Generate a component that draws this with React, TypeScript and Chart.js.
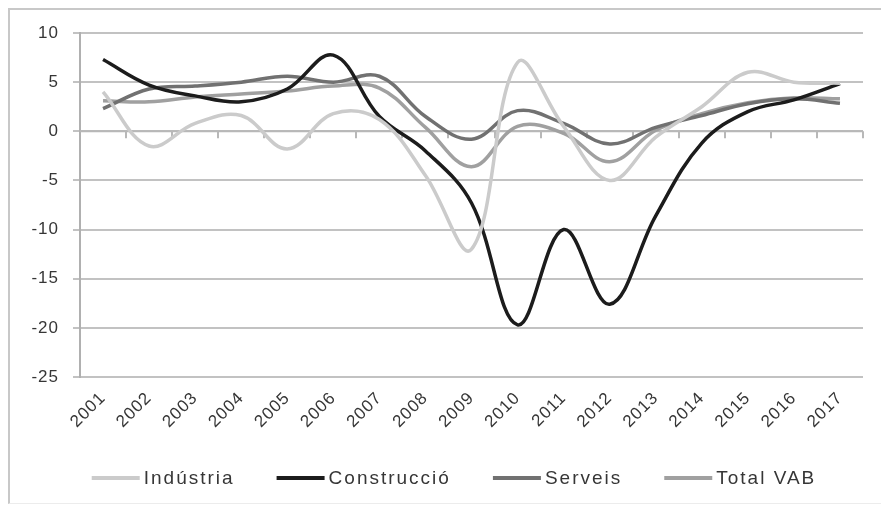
import React, { useEffect, useRef } from 'react';
import { Chart, registerables } from 'chart.js';

Chart.register(...registerables);

const years = ['2001', '2002', '2003', '2004', '2005', '2006', '2007', '2008', '2009', '2010', '2011', '2012', '2013', '2014', '2015', '2016', '2017'];
const industria = [4.0, -1.5, 0.8, 1.6, -1.8, 1.8, 1.2, -4.5, -12.0, 7.0, 0.5, -5.0, -0.6, 2.5, 6.0, 5.0, 4.9];
const construccio = [7.3, 4.7, 3.6, 3.0, 4.3, 7.75, 1.5, -2.0, -7.3, -19.7, -10.0, -17.6, -8.6, -1.2, 2.0, 3.2, 4.85];
const serveis = [2.3, 4.3, 4.6, 5.0, 5.6, 5.0, 5.6, 1.5, -0.8, 2.1, 0.8, -1.3, 0.4, 1.6, 2.8, 3.3, 2.85];
const totalVab = [3.1, 3.0, 3.5, 3.8, 4.1, 4.6, 4.4, 0.4, -3.6, 0.5, -0.2, -3.1, 0.1, 1.8, 2.9, 3.4, 3.3];
const seriesNames = ['Indústria', 'Construcció', 'Serveis', 'Total VAB'];
const yMin = -25;
const yMax = 10;
const yStep = 5;

const colors = ['#cbcbcb', '#1c1c1c', '#717171', '#a0a0a0'];
const textColor = '#363636';
const gridColor = '#c2c2c2';

const spacingPlugin = {
  id: 'spacing',
  beforeUpdate(chart: any) {
    chart.ctx.letterSpacing = '1px';
  },
  beforeDraw(chart: any) {
    chart.ctx.letterSpacing = '1px';
  },
};

const zeroAxisPlugin = {
  id: 'zeroAxis',
  beforeDatasetsDraw(chart: any) {
    const { ctx, scales } = chart;
    const x = scales.x;
    const y = scales.y;
    const y0 = y.getPixelForValue(0);
    const n = x.ticks.length;
    const step = (x.right - x.left) / n;
    ctx.save();
    ctx.strokeStyle = '#b8b8b8';
    ctx.lineWidth = 2;
    ctx.beginPath();
    ctx.moveTo(x.left, y0);
    ctx.lineTo(x.right, y0);
    for (let i = 1; i <= n; i++) {
      const px = Math.round(x.left + i * step);
      ctx.moveTo(px, y0);
      ctx.lineTo(px, y0 + 7);
    }
    ctx.stroke();
    ctx.restore();
  },
};

const legendPlugin = {
  id: 'customLegend',
  afterDraw(chart: any) {
    const ctx = chart.ctx;
    ctx.save();
    ctx.font = '19px "Liberation Sans", Arial, sans-serif';
    ctx.letterSpacing = '2px';
    const lineW = 48;
    const gap = 4;
    const itemGap = 42;
    const items = chart.data.datasets.map((ds: any) => ({
      label: ds.label,
      color: ds.borderColor,
      w: ctx.measureText(ds.label).width,
    }));
    const total = items.reduce((s: number, it: any) => s + lineW + gap + it.w, 0) + itemGap * (items.length - 1);
    const centerX = 454;
    const cy = 478;
    let x = centerX - total / 2;
    ctx.textBaseline = 'middle';
    ctx.textAlign = 'left';
    for (const it of items) {
      ctx.strokeStyle = it.color;
      ctx.lineWidth = 4;
      ctx.beginPath();
      ctx.moveTo(x, cy);
      ctx.lineTo(x + lineW, cy);
      ctx.stroke();
      ctx.fillStyle = textColor;
      ctx.fillText(it.label, x + lineW + gap, cy + 1);
      x += lineW + gap + it.w + itemGap;
    }
    ctx.restore();
  },
};

export default function App() {
  const canvasRef = useRef<HTMLCanvasElement | null>(null);

  useEffect(() => {
    if (!canvasRef.current) return;
    const seriesData = [industria, construccio, serveis, totalVab];
    const chart = new Chart(canvasRef.current, {
      type: 'line',
      data: {
        labels: years,
        datasets: seriesNames.map((name, i) => ({
          label: name,
          data: seriesData[i],
          borderColor: colors[i],
          backgroundColor: colors[i],
          borderWidth: 3.5,
          pointRadius: 0,
          pointHoverRadius: 0,
          tension: 0.38,
          fill: false,
        })),
      },
      options: {
        responsive: false,
        animation: false,
        devicePixelRatio: 1,
        layout: { padding: { top: 33, left: 0, right: 18, bottom: 68 } },
        plugins: {
          legend: { display: false },
          tooltip: { enabled: false },
        },
        scales: {
          x: {
            type: 'category',
            offset: true,
            grid: { display: false, drawTicks: false },
            border: { display: false },
            ticks: {
              minRotation: 45,
              maxRotation: 45,
              autoSkip: false,
              padding: 11,
              color: textColor,
              font: { family: '"Liberation Sans", Arial, sans-serif', size: 17 },
            },
            afterFit: (scale: any) => {
              scale.height = 60;
            },
          },
          y: {
            min: yMin,
            max: yMax,
            ticks: {
              stepSize: yStep,
              padding: 14,
              color: textColor,
              font: { family: '"Liberation Sans", Arial, sans-serif', size: 17 },
            },
            grid: {
              color: gridColor,
              lineWidth: 2,
              drawTicks: true,
              tickLength: 7,
            },
            border: { display: true, color: '#b0b0b0', width: 2 },
            afterFit: (scale: any) => {
              scale.width = 80;
            },
          },
        },
      },
      plugins: [spacingPlugin, zeroAxisPlugin, legendPlugin],
    });
    return () => chart.destroy();
  }, []);

  return (
    <div style={{ position: 'absolute', left: 0, top: 0, width: 881, height: 505, background: '#fff' }}>
      <div
        style={{
          position: 'absolute',
          left: 8,
          top: 8,
          width: 873,
          height: 496,
          boxSizing: 'border-box',
          borderTop: '2px solid #c8c8c8',
          borderLeft: '2px solid #c8c8c8',
          borderBottom: '1px solid #ececec',
        }}
      />
      <canvas ref={canvasRef} width={881} height={505} style={{ position: 'absolute', left: 0, top: 0 }} />
    </div>
  );
}
